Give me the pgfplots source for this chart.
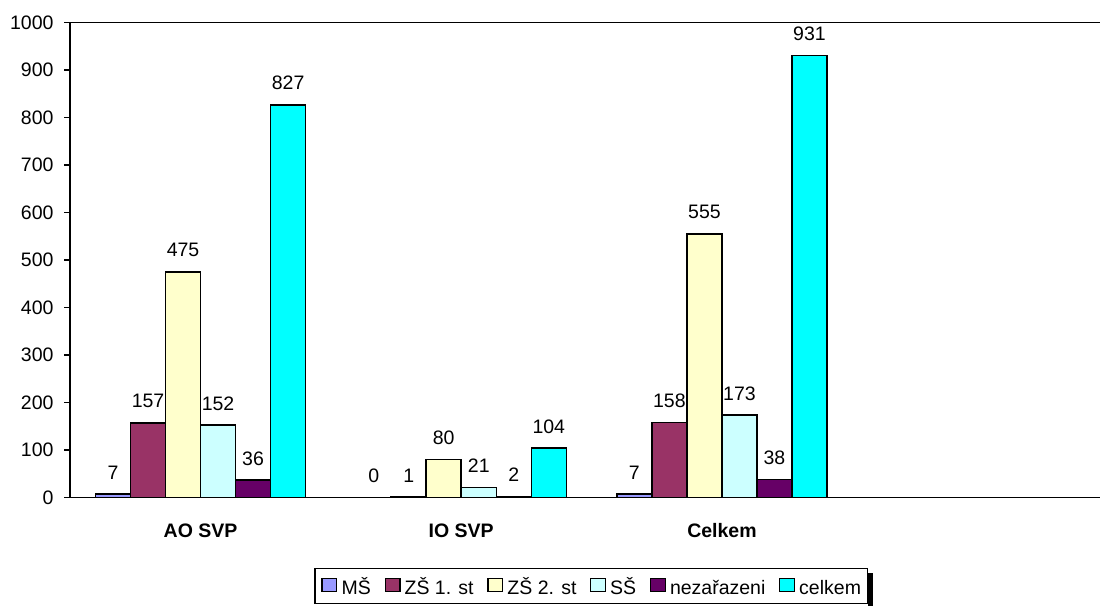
\documentclass[border=0pt]{standalone}
\usepackage{fontspec}
\setmainfont{Liberation Sans}
\usepackage{pgfplots}
\pgfplotsset{compat=1.18}

\definecolor{cMS}{HTML}{9999FF}
\definecolor{cZSa}{HTML}{993366}
\definecolor{cZSb}{HTML}{FFFFCC}
\definecolor{cSS}{HTML}{CCFFFF}
\definecolor{cNez}{HTML}{660066}
\definecolor{cCelk}{HTML}{00FFFF}

\newcommand{\chartfont}{\fontsize{19.5}{23}\selectfont}

\begin{document}
\begin{tikzpicture}
\path[use as bounding box] (-70.2pt,-107.7pt) rectangle (1029.8pt,497.3pt);
\begin{axis}[
  at={(0pt,0pt)}, anchor=south west,
  scale only axis, width=1042.8pt, height=474.6pt,
  clip=false,
  ybar, bar width=0.1343,
  xmin=-0.5, xmax=3.5, ymin=0, ymax=1000,
  axis x line=bottom, axis y line=left,
  axis line style={-, line width=1.6pt, black},
  xtick={0,1,2}, xticklabels={AO SVP, IO SVP, Celkem},
  xtick style={draw=none},
  ytick={0,100,...,1000},
  ytick style={line width=1.4pt, black},
  tick align=outside, major tick length=6pt,
  scaled y ticks=false,
  /pgf/number format/assume math mode=true,
  /pgf/number format/1000 sep={},
  yticklabel style={font=\chartfont, anchor=east, inner sep=0pt, xshift=-10.5pt},
  xticklabel style={font=\chartfont\bfseries, anchor=north, inner sep=0pt, yshift=-20pt},
  nodes near coords,
  every node near coord/.append style={font=\chartfont, anchor=south, inner sep=0pt, yshift=14pt, black},
  legend columns=6,
  legend image code/.code={%
    \draw[#1, line width=1.3pt] (0pt,-4.5pt) rectangle (14.7pt,8.5pt);},
  legend style={name=leg, at={(axis description cs:0.2338,-0.1483)}, anchor=north west,
    draw=black, line width=1.6pt, fill=white, font=\chartfont,
    inner xsep=6.65pt, inner ysep=9.5pt, cells={anchor=west},
    nodes={inner xsep=0pt, inner ysep=0pt, text height=14pt, text depth=0pt},
    /tikz/every odd column/.append style={column sep=4.15pt},
    /tikz/every even column/.append style={column sep=13.65pt}},
]
\addplot[fill=cMS, draw=black, line width=1.5pt, bar shift=-0.3358]
  coordinates {(0,7) (1,0) (2,7)};
\addplot[fill=cZSa, draw=black, line width=1.5pt, bar shift=-0.2015]
  coordinates {(0,157) (1,1) (2,158)};
\addplot[fill=cZSb, draw=black, line width=1.5pt, bar shift=-0.0672]
  coordinates {(0,475) (1,80) (2,555)};
\addplot[fill=cSS, draw=black, line width=1.5pt, bar shift=0.0672]
  coordinates {(0,152) (1,21) (2,173)};
\addplot[fill=cNez, draw=black, line width=1.5pt, bar shift=0.2015]
  coordinates {(0,36) (1,2) (2,38)};
\addplot[fill=cCelk, draw=black, line width=1.5pt, bar shift=0.3358]
  coordinates {(0,827) (1,104) (2,931)};
\legend{MŠ, ZŠ 1. st, ZŠ 2. st, SŠ, nezařazeni, celkem\hspace{10pt}}
\draw[line width=1.6pt, black] (rel axis cs:0,1) -- (rel axis cs:1,1);
\end{axis}
% shadow strip along the right side of the legend box
\fill[black] ([yshift=-5pt]leg.north east) rectangle ([xshift=5pt,yshift=-5pt]leg.south east);
\end{tikzpicture}
\end{document}
